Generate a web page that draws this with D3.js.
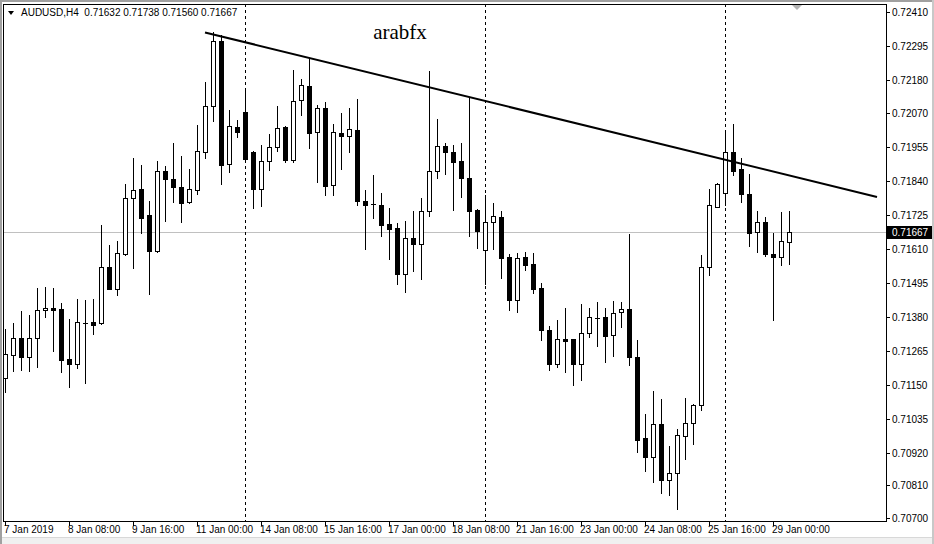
<!DOCTYPE html>
<html><head><meta charset="utf-8">
<script src="https://cdn.jsdelivr.net/npm/d3@7/dist/d3.min.js"></script>
<style>html,body{margin:0;padding:0;background:#fff;}svg{display:block;}</style>
</head><body>
<svg id="c" width="934" height="544"></svg>
<script>
// ---- data (AUDUSD H4) ----
const symbolTitle = "AUDUSD,H4";
const lastBarText = "0.71632 0.71738 0.71560 0.71667";
const open  = [0.71172,0.71250,0.71307,0.71243,0.71307,0.71402,0.71409,0.71405,0.71237,0.71219,0.71358,0.71361,0.71360,0.71547,0.71473,0.71591,0.71780,0.71812,0.71724,0.71603,0.71873,0.71846,0.71818,0.71767,0.71807,0.71938,0.72091,0.72312,0.71895,0.72021,0.72072,0.71937,0.71813,0.71905,0.71953,0.72021,0.71911,0.72112,0.72159,0.72003,0.72086,0.71824,0.72000,0.71991,0.72010,0.71770,0.71760,0.71757,0.71693,0.71680,0.71523,0.71645,0.71627,0.71736,0.71872,0.71957,0.71937,0.71906,0.71850,0.71740,0.71607,0.71699,0.71717,0.71582,0.71438,0.71582,0.71558,0.71477,0.71335,0.71221,0.71305,0.71305,0.71221,0.71324,0.71375,0.71378,0.71319,0.71395,0.71405,0.71245,0.70969,0.70905,0.71017,0.70829,0.70851,0.70976,0.71020,0.71082,0.71547,0.71752,0.71797,0.71936,0.71879,0.71794,0.71665,0.71699,0.71592,0.71581,0.71632];
const high  = [0.71339,0.71359,0.71398,0.71387,0.71477,0.71481,0.71477,0.71425,0.71372,0.71440,0.71437,0.71440,0.71689,0.71621,0.71636,0.71829,0.71916,0.71893,0.71771,0.71906,0.71890,0.71968,0.71923,0.71879,0.72028,0.72173,0.72341,0.72332,0.72079,0.72045,0.72152,0.71940,0.71960,0.71998,0.72092,0.72026,0.72214,0.72185,0.72256,0.72095,0.72106,0.72031,0.72068,0.72086,0.72116,0.71807,0.71859,0.71798,0.71748,0.71696,0.71704,0.71737,0.71781,0.72211,0.72048,0.71967,0.71962,0.71967,0.72120,0.71744,0.71791,0.71763,0.71736,0.71591,0.71596,0.71599,0.71595,0.71495,0.71349,0.71370,0.71410,0.71306,0.71423,0.71410,0.71430,0.71410,0.71433,0.71430,0.71659,0.71301,0.71051,0.71128,0.71102,0.70943,0.71000,0.71105,0.71085,0.71589,0.71812,0.71831,0.72011,0.72031,0.71916,0.71862,0.71737,0.71717,0.71663,0.71734,0.71738];
const low   = [0.71127,0.71198,0.71201,0.71198,0.71211,0.71378,0.71265,0.71192,0.71144,0.71208,0.71155,0.71323,0.71355,0.71473,0.71452,0.71588,0.71544,0.71664,0.71456,0.71600,0.71705,0.71769,0.71701,0.71765,0.71796,0.71918,0.72043,0.71829,0.71870,0.71989,0.71912,0.71748,0.71755,0.71877,0.71941,0.71904,0.71904,0.72063,0.71951,0.71836,0.71793,0.71793,0.71880,0.71938,0.71759,0.71610,0.71715,0.71654,0.71576,0.71492,0.71463,0.71536,0.71509,0.71722,0.71850,0.71864,0.71742,0.71786,0.71654,0.71613,0.71491,0.71610,0.71512,0.71404,0.71395,0.71539,0.71461,0.71302,0.71201,0.71211,0.71194,0.71150,0.71167,0.71313,0.71282,0.71228,0.71248,0.71346,0.71218,0.70924,0.70860,0.70822,0.70785,0.70779,0.70731,0.70898,0.70951,0.71065,0.71522,0.71750,0.71758,0.71860,0.71769,0.71620,0.71600,0.71585,0.71370,0.71556,0.71560];
const close = [0.71253,0.71307,0.71243,0.71307,0.71402,0.71409,0.71404,0.71235,0.71221,0.71361,0.71358,0.71353,0.71547,0.71475,0.71594,0.71780,0.71807,0.71715,0.71603,0.71873,0.71847,0.71820,0.71765,0.71812,0.71939,0.72092,0.72312,0.71893,0.72025,0.72005,0.71914,0.71813,0.71905,0.71953,0.72017,0.71911,0.72108,0.72162,0.72002,0.72086,0.71823,0.72003,0.71990,0.72014,0.71770,0.71759,0.71760,0.71691,0.71678,0.71526,0.71645,0.71627,0.71736,0.71872,0.71956,0.71938,0.71904,0.71848,0.71738,0.71671,0.71699,0.71720,0.71580,0.71438,0.71578,0.71556,0.71475,0.71336,0.71221,0.71305,0.71299,0.71221,0.71324,0.71378,0.71375,0.71316,0.71392,0.71405,0.71245,0.70964,0.70907,0.71017,0.70829,0.70851,0.70979,0.71020,0.71082,0.71547,0.71757,0.71828,0.71936,0.71874,0.71794,0.71664,0.71699,0.71592,0.71581,0.71635,0.71667];
const priceTicks = [0.72410,0.72295,0.72180,0.72070,0.71955,0.71840,0.71725,0.71610,0.71495,0.71380,0.71265,0.71150,0.71035,0.70920,0.70810,0.70700];
const timeLabels = ["7 Jan 2019","8 Jan 08:00","9 Jan 16:00","11 Jan 00:00","14 Jan 08:00","15 Jan 16:00","17 Jan 00:00","18 Jan 08:00","21 Jan 16:00","23 Jan 00:00","24 Jan 08:00","25 Jan 16:00","29 Jan 00:00"];
const timeLabelBars = [0,8,16,24,32,40,48,56,64,72,80,88,96];
const separatorBars = [30,60,90];          // Monday 00:00 separators
const trendBars = [25,109];
const trendPrices = [0.72341,0.71785];
const currentPrice = 0.71667;
const watermark = "arabfx";

// ---- layout ----
const svg = d3.select("#c");
const L = 3, T = 4, R = 886, B = 521;
const x = d3.scaleLinear().domain([0,1]).range([5,13]);
const y = d3.scaleLinear().domain([0.70700,0.72410]).range([518,12]);
const font = "'Liberation Sans', Arial, sans-serif";

// window chrome
svg.append("rect").attr("x",0).attr("y",0).attr("width",934).attr("height",544).attr("fill","#ffffff");
svg.append("rect").attr("x",0).attr("y",537).attr("width",934).attr("height",7).attr("fill","#f0f0f0");
svg.append("line").attr("x1",0).attr("x2",934).attr("y1",537.5).attr("y2",537.5).attr("stroke","#d8d8d8");
svg.append("rect").attr("x",0).attr("y",0).attr("width",934).attr("height",2).attr("fill","#a0a0a0");
svg.append("rect").attr("x",0).attr("y",0).attr("width",2).attr("height",544).attr("fill","#a0a0a0");
svg.append("rect").attr("x",932).attr("y",0).attr("width",2).attr("height",544).attr("fill","#c8c8c8");

const defs = svg.append("defs");
defs.append("clipPath").attr("id","plot").append("rect").attr("x",L+1).attr("y",T+1).attr("width",R-L-1).attr("height",B-T-1);
const g = svg.append("g").attr("clip-path","url(#plot)");

// current price line
g.append("line").attr("x1",L).attr("x2",R).attr("y1",Math.round(y(currentPrice))+0.5).attr("y2",Math.round(y(currentPrice))+0.5)
  .attr("stroke","#c0c0c0").attr("stroke-width",1);

// separators
g.selectAll("line.sep").data(separatorBars).join("line").attr("class","sep")
  .attr("x1",d=>x(d)+0.5).attr("x2",d=>x(d)+0.5).attr("y1",T).attr("y2",B)
  .attr("stroke","#000").attr("stroke-width",1).attr("stroke-dasharray","3,3");

// candles
const bars = d3.range(open.length).map(i=>({i,o:open[i],h:high[i],l:low[i],c:close[i]}));
const cg = g.append("g").attr("shape-rendering","crispEdges");
bars.forEach(d=>{
  const cx = x(d.i);
  cg.append("line").attr("x1",cx+0.5).attr("x2",cx+0.5)
    .attr("y1",Math.round(y(d.h))).attr("y2",Math.round(y(d.l))+1).attr("stroke","#000");
  const top = Math.round(y(Math.max(d.o,d.c))), bot = Math.round(y(Math.min(d.o,d.c)));
  if (bot - top < 1) {
    cg.append("line").attr("x1",cx-2).attr("x2",cx+3).attr("y1",top+0.5).attr("y2",top+0.5).attr("stroke","#000");
  } else {
    cg.append("rect").attr("x",cx-1.5).attr("y",top+0.5).attr("width",4).attr("height",bot-top)
      .attr("fill", d.c>d.o ? "#fff" : "#000").attr("stroke","#000");
  }
});

// trendline
g.append("line").attr("x1",x(trendBars[0])).attr("y1",y(trendPrices[0]))
  .attr("x2",x(trendBars[1])).attr("y2",y(trendPrices[1]))
  .attr("stroke","#000").attr("stroke-width",2);

// watermark text
svg.append("text").attr("x",400).attr("y",39).attr("text-anchor","middle")
  .attr("font-family","'Liberation Serif','Times New Roman',serif").attr("font-size",21).attr("fill","#000").text(watermark);

// frame
svg.append("rect").attr("x",L+0.5).attr("y",T+0.5).attr("width",R-L).attr("height",B-T)
  .attr("fill","none").attr("stroke","#000").attr("shape-rendering","crispEdges");

// chart shift marker
svg.append("path").attr("d","M792,5 L802,5 L797,10 Z").attr("fill","#b4b4b4");

// header
svg.append("path").attr("d","M8,11 L14,11 L11,15 Z").attr("fill","#000");
svg.append("text").attr("x",21).attr("y",16).attr("font-family",font).attr("font-size",10).attr("fill","#000")
  .text(symbolTitle + "  " + lastBarText).attr("xml:space","preserve").style("white-space","pre");

// right axis
const ra = svg.append("g").attr("shape-rendering","crispEdges");
priceTicks.forEach(p=>{
  const yy = Math.round(y(p))+0.5;
  ra.append("line").attr("x1",R+1).attr("x2",R+4).attr("y1",yy).attr("y2",yy).attr("stroke","#000");
});
svg.selectAll("text.pt").data(priceTicks).join("text").attr("class","pt")
  .attr("x",892).attr("y",p=>Math.round(y(p))+4)
  .attr("font-family",font).attr("font-size",10).attr("fill","#000")
  .text(p=>p.toFixed(5));

// current price label
const cy = Math.round(y(currentPrice));
svg.append("rect").attr("x",887).attr("y",cy-6).attr("width",45).attr("height",13).attr("fill","#000");
svg.append("text").attr("x",892).attr("y",cy+4).attr("font-family",font).attr("font-size",10).attr("fill","#fff")
  .text(currentPrice.toFixed(5));

// bottom axis
timeLabelBars.forEach((b,k)=>{
  const xx = Math.round(x(b))+0.5;
  ra.append("line").attr("x1",xx).attr("x2",xx).attr("y1",B+1).attr("y2",B+5).attr("stroke","#000");
});
svg.selectAll("text.tl").data(timeLabels).join("text").attr("class","tl")
  .attr("x",(d,k)=>Math.max(4, x(timeLabelBars[k])-1)).attr("y",533)
  .attr("font-family",font).attr("font-size",10).attr("fill","#000")
  .text(d=>d);
</script>
</body></html>
